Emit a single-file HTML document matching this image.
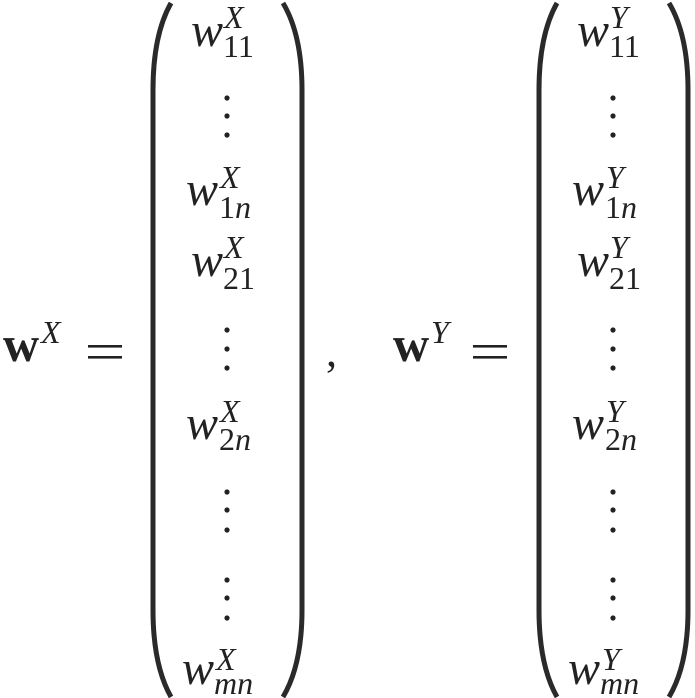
<!DOCTYPE html>
<html><head><meta charset="utf-8"><style>
html,body{margin:0;padding:0;background:#fff;}
svg{display:block;}
.m{font-family:"Liberation Serif",serif;font-style:italic;fill:#222;}
.u{font-family:"Liberation Serif",serif;fill:#222;}
</style></head><body>
<svg width="695" height="698" viewBox="0 0 695 698" xmlns="http://www.w3.org/2000/svg">
<defs>
<g id="mat">
<path d="M171,3 Q153,35 153,90 L153,610 Q153,665 171,697" fill="none" stroke="#2a2a2a" stroke-width="5"/>
<path d="M283,3 Q302,35 302,90 L302,610 Q302,665 283,697" fill="none" stroke="#2a2a2a" stroke-width="5"/>
<g fill="#222">
<circle cx="227" cy="98" r="2.6"/><circle cx="227" cy="116" r="2.6"/><circle cx="227" cy="135" r="2.6"/>
<circle cx="227" cy="330" r="2.6"/><circle cx="227" cy="349" r="2.6"/><circle cx="227" cy="368" r="2.6"/>
<circle cx="227" cy="492" r="2.6"/><circle cx="227" cy="510" r="2.6"/><circle cx="227" cy="530" r="2.6"/>
<circle cx="227" cy="580" r="2.6"/><circle cx="227" cy="598" r="2.6"/><circle cx="227" cy="618" r="2.6"/>
</g>
</g>
<g id="eq"><rect x="0" y="0" width="34" height="2.6" fill="#222"/><rect x="0" y="11" width="34" height="2.6" fill="#222"/></g>
</defs>
<!-- left -->
<text x="3" y="361" class="u" font-size="50" font-weight="bold">w</text>
<text x="41" y="343" class="m" font-size="32">X</text>
<use href="#eq" x="88" y="345"/>
<use href="#mat"/>
<g class="m">
<text x="191" y="46" font-size="48">w</text><text x="224" y="28" font-size="32">X</text><text x="223" y="57" font-size="32" font-style="normal">11</text>
<text x="186" y="205" font-size="48">w</text><text x="220" y="188" font-size="32">X</text><text x="219" y="218" font-size="32"><tspan font-style="normal">1</tspan>n</text>
<text x="191" y="276" font-size="48">w</text><text x="224" y="258" font-size="32">X</text><text x="223" y="289" font-size="32" font-style="normal">21</text>
<text x="186" y="439" font-size="48">w</text><text x="220" y="422" font-size="32">X</text><text x="219" y="450" font-size="32"><tspan font-style="normal">2</tspan>n</text>
<text x="182" y="684" font-size="48">w</text><text x="216" y="670" font-size="32">X</text><text x="214" y="694" font-size="32">mn</text>
</g>
<text x="326" y="366" class="u" font-size="44">,</text>
<!-- right -->
<text x="393" y="361" class="u" font-size="50" font-weight="bold">w</text>
<text x="431" y="343" class="m" font-size="32">Y</text>
<use href="#eq" x="473" y="345"/>
<use href="#mat" x="386"/>
<g class="m" transform="translate(386,0)">
<text x="191" y="46" font-size="48">w</text><text x="224" y="28" font-size="32">Y</text><text x="223" y="57" font-size="32" font-style="normal">11</text>
<text x="186" y="205" font-size="48">w</text><text x="220" y="188" font-size="32">Y</text><text x="219" y="218" font-size="32"><tspan font-style="normal">1</tspan>n</text>
<text x="191" y="276" font-size="48">w</text><text x="224" y="258" font-size="32">Y</text><text x="223" y="289" font-size="32" font-style="normal">21</text>
<text x="186" y="439" font-size="48">w</text><text x="220" y="422" font-size="32">Y</text><text x="219" y="450" font-size="32"><tspan font-style="normal">2</tspan>n</text>
<text x="182" y="684" font-size="48">w</text><text x="216" y="670" font-size="32">Y</text><text x="214" y="694" font-size="32">mn</text>
</g>
</svg>
</body></html>
